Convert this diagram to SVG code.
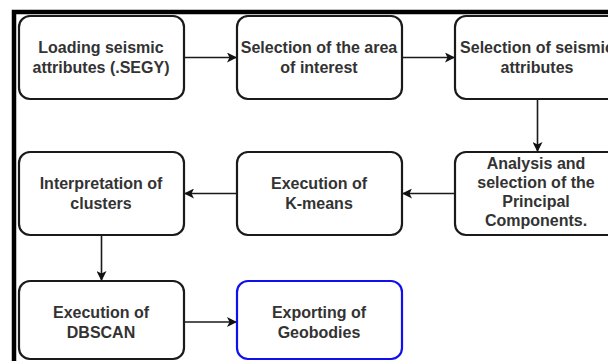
<svg xmlns="http://www.w3.org/2000/svg" width="608" height="361" viewBox="0 0 608 361">
<defs>
<marker id="arr" viewBox="0 0 10 10" refX="10" refY="5" markerWidth="10" markerHeight="10" markerUnits="userSpaceOnUse" orient="auto">
<path d="M0,0 L10,5 L0,10 L2.5,5 Z" fill="#111"/>
</marker>
<style>
.box{fill:#fff;stroke:#1a1a1a;stroke-width:2.2}
.blue{fill:#fff;stroke:#1010ee;stroke-width:2.2}
.t{font-family:"Liberation Sans",Arial,sans-serif;font-size:16px;font-weight:bold;fill:#333;text-anchor:middle}
.c{fill:none;stroke:#1a1a1a;stroke-width:1.6}
</style>
</defs>
<rect width="608" height="361" fill="#fff"/>
<path d="M14,361 V12 H608" fill="none" stroke="#000" stroke-width="4.5"/>
<g id="connectors">
<path class="c" d="M184,57.5 H237" marker-end="url(#arr)"/>
<path class="c" d="M402,57.5 H455" marker-end="url(#arr)"/>
<path class="c" d="M537.5,99 V152" marker-end="url(#arr)"/>
<path class="c" d="M455,193.5 H402" marker-end="url(#arr)"/>
<path class="c" d="M237,193.5 H184" marker-end="url(#arr)"/>
<path class="c" d="M101.5,235 V281" marker-end="url(#arr)"/>
<path class="c" d="M184,322 H237" marker-end="url(#arr)"/>
</g>
<g id="loading">
<rect class="box" x="19" y="16" width="165" height="83" rx="11"/>
<text class="t" x="101" y="53">Loading seismic</text>
<text class="t" x="101" y="72.5">attributes (.SEGY)</text>
</g>
<g id="area">
<rect class="box" x="237" y="16" width="165" height="83" rx="11"/>
<text class="t" x="319" y="53">Selection of the area</text>
<text class="t" x="319" y="72.5">of interest</text>
</g>
<g id="selattr">
<rect class="box" x="455" y="16" width="165" height="83" rx="11"/>
<text class="t" x="537" y="53">Selection of seismic</text>
<text class="t" x="537" y="72.5">attributes</text>
</g>
<g id="pca">
<rect class="box" x="455" y="152" width="165" height="83" rx="11"/>
<text class="t" x="536" y="168.5">Analysis and</text>
<text class="t" x="536" y="187.5">selection of the</text>
<text class="t" x="536" y="206.5">Principal</text>
<text class="t" x="536" y="226">Components.</text>
</g>
<g id="kmeans">
<rect class="box" x="237" y="152" width="165" height="83" rx="11"/>
<text class="t" x="319" y="189">Execution of</text>
<text class="t" x="319" y="208.5">K-means</text>
</g>
<g id="interp">
<rect class="box" x="19" y="152" width="165" height="83" rx="11"/>
<text class="t" x="101" y="189">Interpretation of</text>
<text class="t" x="101" y="208.5">clusters</text>
</g>
<g id="dbscan">
<rect class="box" x="19" y="281" width="165" height="78" rx="11"/>
<text class="t" x="101" y="318">Execution of</text>
<text class="t" x="101" y="337.5">DBSCAN</text>
</g>
<g id="export">
<rect class="blue" x="237" y="281" width="165" height="78" rx="11"/>
<text class="t" x="319" y="318">Exporting of</text>
<text class="t" x="319" y="337.5">Geobodies</text>
</g>
</svg>
